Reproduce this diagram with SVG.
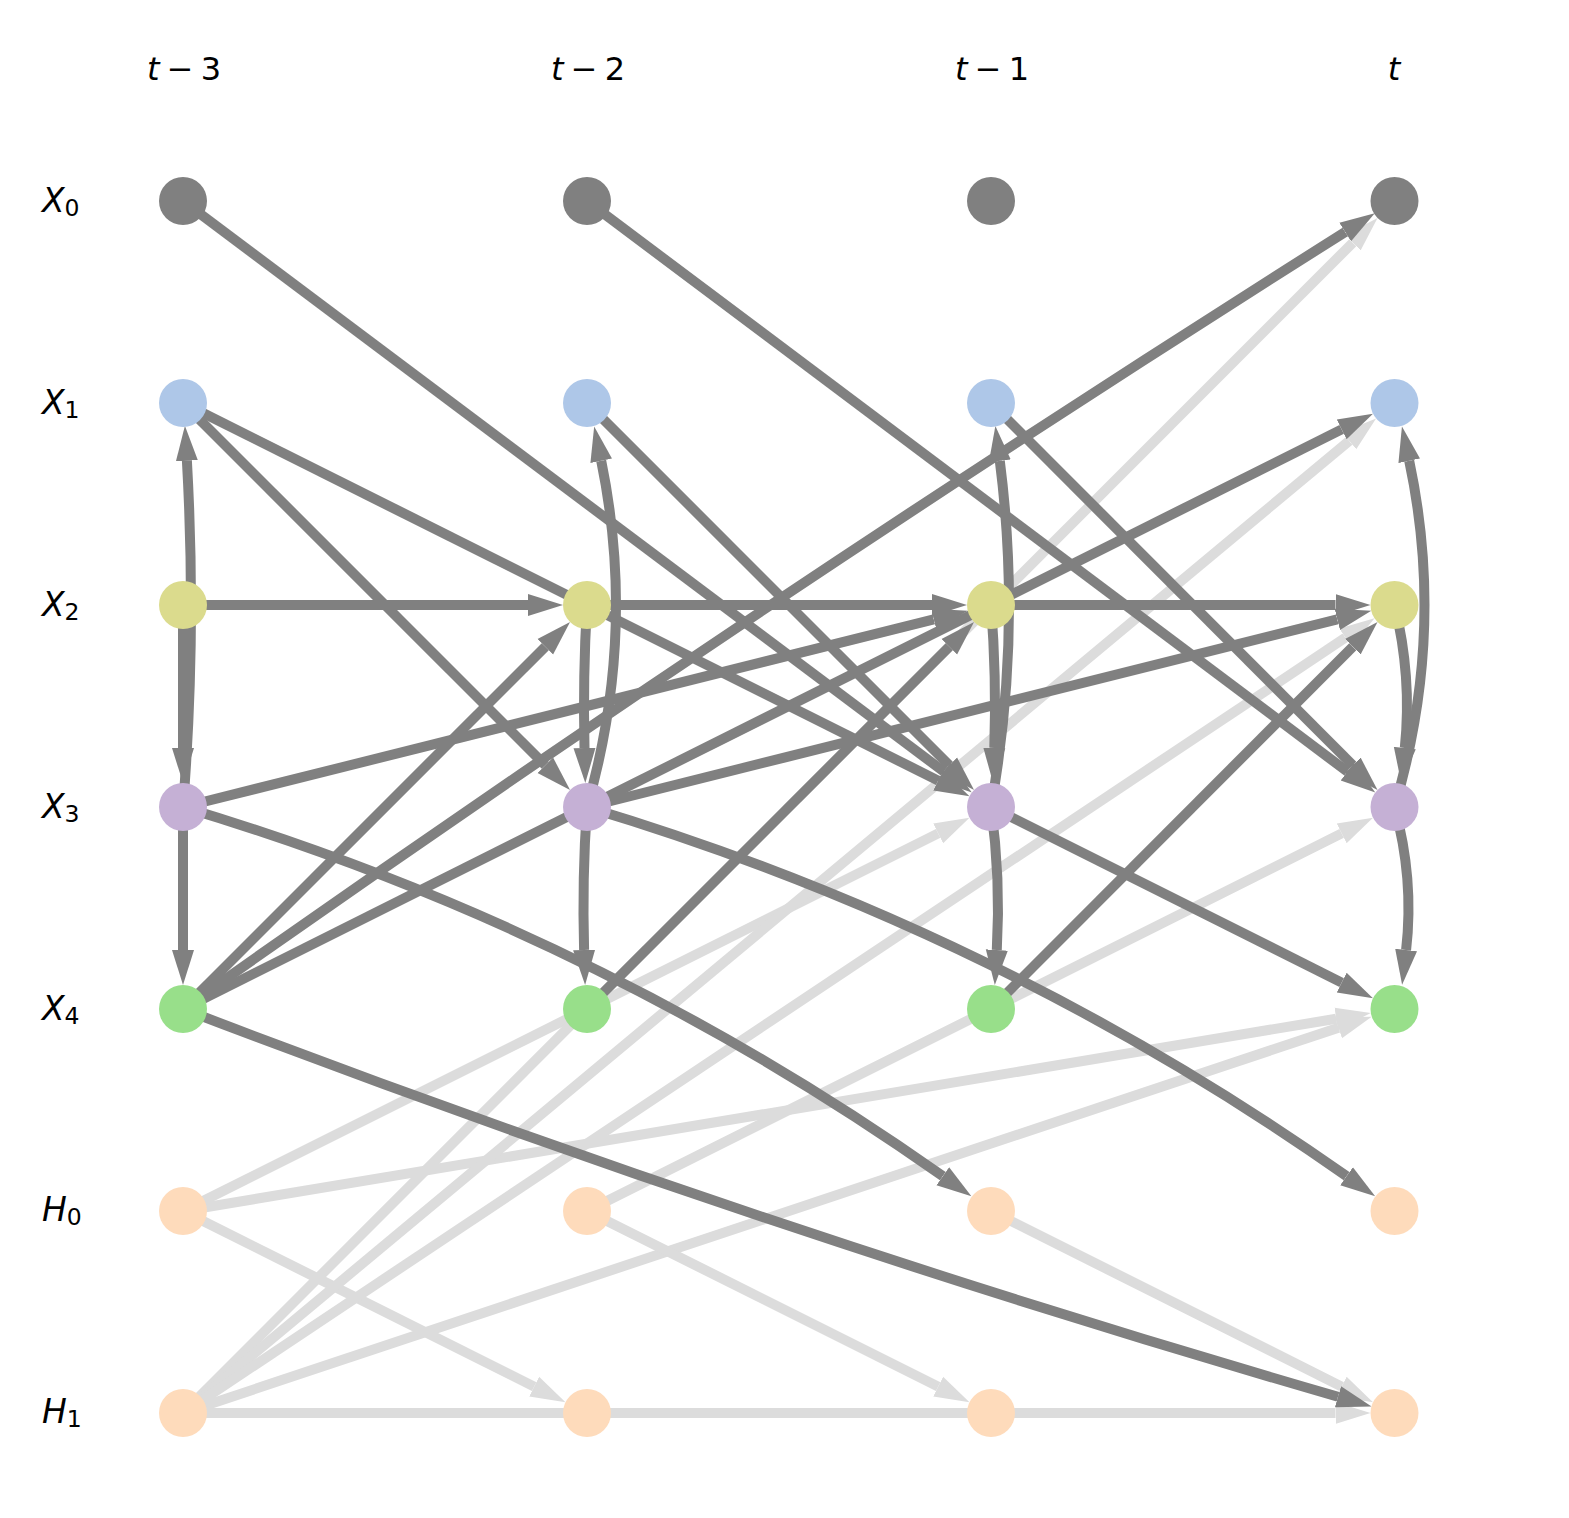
<svg xmlns="http://www.w3.org/2000/svg" width="1569" height="1518" viewBox="0 0 1569 1518">
<style>
.d{fill:none;stroke:#808080;stroke-width:10;marker-end:url(#ad)}
.l{fill:none;stroke:#dcdcdc;stroke-width:10;marker-end:url(#al)}
.lab{font-family:"DejaVu Sans",sans-serif;font-size:32px;fill:#000}
.rl{font-size:33px}
.it{font-style:oblique}
.sub{font-size:23.5px;font-style:normal}
.x0{fill:#808080}.x1{fill:#aec7e8}.x2{fill:#dbdb8d}.x3{fill:#c5b0d5}.x4{fill:#98df8a}.h{fill:#fedbbb}
</style>
<defs>
<marker id="ad" markerUnits="userSpaceOnUse" markerWidth="40" markerHeight="26" viewBox="0 -13 40 26" refX="0" refY="0" orient="auto"><path d="M0,-11 L35,0 L0,11 z" fill="#808080"/></marker>
<marker id="al" markerUnits="userSpaceOnUse" markerWidth="40" markerHeight="26" viewBox="0 -13 40 26" refX="0" refY="0" orient="auto"><path d="M0,-11 L35,0 L0,11 z" fill="#dcdcdc"/></marker>
</defs>
<rect width="1569" height="1518" fill="#fff"/>
<g id="connectors">
<g id="hidden-links">
<path class="l" d="M183,1211 L938.2,833.4"/>
<path class="l" d="M183,1211 L1336.3,1018.7"/>
<path class="l" d="M183,1211 L534.2,1386.6"/>
<path class="l" d="M183,1413 L1335.5,1413"/>
<path class="l" d="M183,1413 L1352.8,242.7"/>
<path class="l" d="M183,1413 L1349.2,440.8"/>
<path class="l" d="M183,1413 L1345.4,637.7"/>
<path class="l" d="M183,1413 L1338.5,1027.7"/>
<path class="l" d="M587,1211 L1341.7,833.4"/>
<path class="l" d="M587,1211 L938.2,1386.6"/>
<path class="l" d="M991,1211 L1341.7,1386.6"/>
</g>
<g id="observed-links">
<path class="d" d="M183,201 L943.8,771.6"/>
<path class="d" d="M587,201 L1347.3,771.6"/>
<path class="d" d="M183,403 L545.3,765.3"/>
<path class="d" d="M183,403 L938.2,780.6"/>
<path class="d" d="M587,403 L949.3,765.3"/>
<path class="d" d="M991,403 L1352.8,765.3"/>
<path class="d" d="M183,605 L528,605"/>
<path class="d" d="M587,605 L932,605"/>
<path class="d" d="M991,605 L1335.5,605"/>
<path class="d" d="M183,807 L933.8,619.3"/>
<path class="d" d="M587,807 L1337.3,619.3"/>
<path class="d" d="M183,1009 L1341.7,429.4"/>
<path class="d" d="M183,1009 L545.3,646.7"/>
<path class="d" d="M587,1009 L949.3,646.7"/>
<path class="d" d="M991,1009 L1352.8,646.7"/>
<path class="d" d="M183,1009 Q753.8,605.2 1345.2,232"/>
<path class="d" d="M183,807 Q593.7,930 942.8,1176.2"/>
<path class="d" d="M586.75,807 Q997.45,930 1346.55,1176.2"/>
<path class="d" d="M183,1009 Q752.4,1227.1 1338,1396.75"/>
<path class="d" d="M991,807 L1341.7,982.6"/>
<path class="d" d="M183,807 Q196.7,633.9 186.9,460.8"/>
<path class="d" d="M587,807 Q636.7,633.9 601.2,460.8"/>
<path class="d" d="M991,807 Q1021.9,633.9 999.8,460.8"/>
<path class="d" d="M1394.5,807 Q1445.9,633.9 1409.2,460.8"/>
<path class="d" d="M183,605 L183,748"/>
<path class="d" d="M587,605 Q582.8,676.5 584.5,748"/>
<path class="d" d="M991,605 Q996.7,676.5 994.3,748"/>
<path class="d" d="M1394.5,605 Q1412.2,676.5 1404.8,748"/>
<path class="d" d="M183,807 L183,950"/>
<path class="d" d="M587,807 Q582,878.5 584.1,950"/>
<path class="d" d="M991,807 Q1000.9,878.5 996.8,950"/>
<path class="d" d="M1394.5,807 Q1414.3,878.5 1406.1,950"/>
</g>
</g>
<g id="X0_t-3"><circle class="x0" cx="183" cy="201" r="24"/></g>
<g id="X0_t-2"><circle class="x0" cx="587" cy="201" r="24"/></g>
<g id="X0_t-1"><circle class="x0" cx="991" cy="201" r="24"/></g>
<g id="X0_t"><circle class="x0" cx="1394.5" cy="201" r="24"/></g>
<g id="X1_t-3"><circle class="x1" cx="183" cy="403" r="24"/></g>
<g id="X1_t-2"><circle class="x1" cx="587" cy="403" r="24"/></g>
<g id="X1_t-1"><circle class="x1" cx="991" cy="403" r="24"/></g>
<g id="X1_t"><circle class="x1" cx="1394.5" cy="403" r="24"/></g>
<g id="X2_t-3"><circle class="x2" cx="183" cy="605" r="24"/></g>
<g id="X2_t-2"><circle class="x2" cx="587" cy="605" r="24"/></g>
<g id="X2_t-1"><circle class="x2" cx="991" cy="605" r="24"/></g>
<g id="X2_t"><circle class="x2" cx="1394.5" cy="605" r="24"/></g>
<g id="X3_t-3"><circle class="x3" cx="183" cy="807" r="24"/></g>
<g id="X3_t-2"><circle class="x3" cx="587" cy="807" r="24"/></g>
<g id="X3_t-1"><circle class="x3" cx="991" cy="807" r="24"/></g>
<g id="X3_t"><circle class="x3" cx="1394.5" cy="807" r="24"/></g>
<g id="X4_t-3"><circle class="x4" cx="183" cy="1009" r="24"/></g>
<g id="X4_t-2"><circle class="x4" cx="587" cy="1009" r="24"/></g>
<g id="X4_t-1"><circle class="x4" cx="991" cy="1009" r="24"/></g>
<g id="X4_t"><circle class="x4" cx="1394.5" cy="1009" r="24"/></g>
<g id="H0_t-3"><circle class="h" cx="183" cy="1211" r="24"/></g>
<g id="H0_t-2"><circle class="h" cx="587" cy="1211" r="24"/></g>
<g id="H0_t-1"><circle class="h" cx="991" cy="1211" r="24"/></g>
<g id="H0_t"><circle class="h" cx="1394.5" cy="1211" r="24"/></g>
<g id="H1_t-3"><circle class="h" cx="183" cy="1413" r="24"/></g>
<g id="H1_t-2"><circle class="h" cx="587" cy="1413" r="24"/></g>
<g id="H1_t-1"><circle class="h" cx="991" cy="1413" r="24"/></g>
<g id="H1_t"><circle class="h" cx="1394.5" cy="1413" r="24"/></g>
<g id="time-labels" class="lab" text-anchor="middle" word-spacing="-3">
<text x="184" y="80"><tspan class="it">t</tspan> − 3</text>
<text x="588" y="80"><tspan class="it">t</tspan> − 2</text>
<text x="992" y="80"><tspan class="it">t</tspan> − 1</text>
<text x="1394" y="80"><tspan class="it">t</tspan></text>
</g>
<g id="var-labels" class="lab rl">
<text x="42" y="212"><tspan class="it">X</tspan><tspan class="sub" dy="4">0</tspan></text>
<text x="42" y="414"><tspan class="it">X</tspan><tspan class="sub" dy="4">1</tspan></text>
<text x="42" y="616"><tspan class="it">X</tspan><tspan class="sub" dy="4">2</tspan></text>
<text x="42" y="818"><tspan class="it">X</tspan><tspan class="sub" dy="4">3</tspan></text>
<text x="42" y="1020"><tspan class="it">X</tspan><tspan class="sub" dy="4">4</tspan></text>
<text x="42" y="1221"><tspan class="it">H</tspan><tspan class="sub" dy="4">0</tspan></text>
<text x="42" y="1423"><tspan class="it">H</tspan><tspan class="sub" dy="4">1</tspan></text>
</g>
</svg>
